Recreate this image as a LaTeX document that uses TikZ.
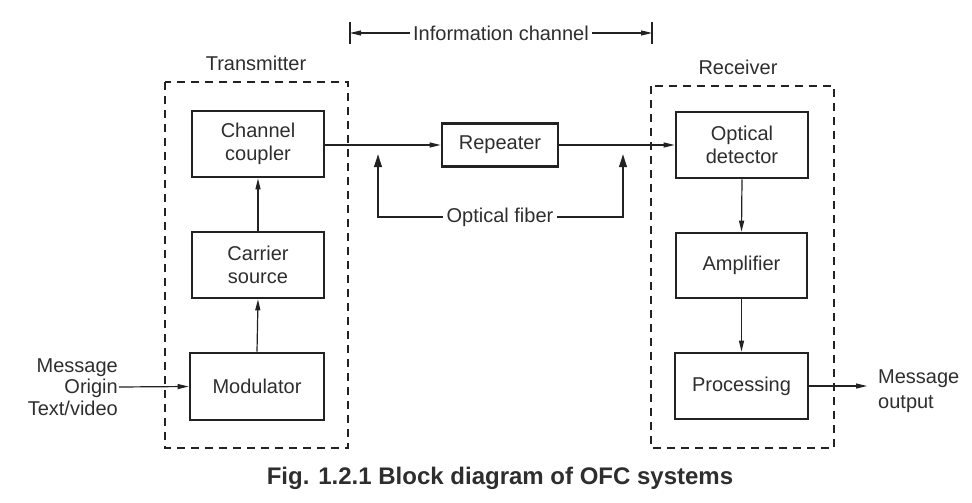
\documentclass[tikz,border=0pt]{standalone}
\usepackage{fontspec}
\setmainfont{Liberation Sans}
\usetikzlibrary{arrows.meta}
\definecolor{ink}{HTML}{222222}
\definecolor{txt}{HTML}{2E2E2E}
\begin{document}
\begin{tikzpicture}[x=1pt,y=-1pt,
  every node/.style={font=\fontsize{20}{23}\selectfont, text=txt},
  blk/.style={draw=ink, line width=2.6pt, minimum width=132pt, minimum height=66pt, align=center, inner sep=2pt},
  dashbox/.style={draw=ink, line width=1.5pt, dash pattern=on 8pt off 6pt},
  arr/.style={draw=ink, line width=1.2pt, -{Triangle[length=11pt,width=5pt]}},
  fib/.style={draw=ink, line width=2.2pt, -{Triangle[length=13pt,width=7.5pt]}},
  bar/.style={draw=ink, line width=1.4pt}]
\useasboundingbox (0,0) rectangle (972,503);

% dashed enclosures
\draw[dashbox] (165,82) rectangle (348,448);
\draw[dashbox] (651,86) rectangle (834,448);
\node (txlbl) at (256,63) {Transmitter};
\node (rxlbl) at (738,67) {Receiver};

% information channel
\node (ic) at (501,33) {Information channel};
\coordinate (barL) at (350,33);
\coordinate (barR) at (652,33);
\draw[arr] (ic.west) -- (barL);
\draw[arr] (ic.east) -- (barR);
\draw[bar] ([yshift=-11pt]barL) -- ([yshift=11pt]barL);
\draw[bar] ([yshift=-11pt]barR) -- ([yshift=11pt]barR);

% transmitter blocks
\node[blk] (coup) at (258,144) {Channel\\coupler};
\node[blk] (carr) at (258,265) {Carrier\\source};
\node[blk, minimum width=134pt, minimum height=67pt] (mod) at (257,386.5) {Modulator};

% receiver blocks
\node[blk] (det) at (742,145) {Optical\\detector};
\node[blk, minimum width=131pt, minimum height=65pt] (amp) at (741.5,265.5) {Amplifier};
\node[blk, minimum width=133pt] (proc) at (741.5,386) {Processing};

% repeater
\node[blk, minimum width=116pt, minimum height=43pt] (rep) at (500,145) {Repeater};

% message in/out
\node[align=right, anchor=east, inner sep=1pt, font=\fontsize{20}{21.5}\selectfont] (min) at (119,387) {Message\\Origin\\Text/video};
\node[align=left, anchor=west, inner sep=1pt, font=\fontsize{20}{25}\selectfont] (mout) at (877,391) {Message\\output};
\coordinate (outtip) at (867,386);

% connectors
\draw[arr] (min.east) -- (mod.west);
\draw[arr] (mod.north) -- (carr.south);
\draw[arr] (carr.north) -- (coup.south);
\draw[arr] (coup.east |- rep.west) -- (rep.west);
\draw[arr] (rep.east) -- (det.west |- rep.east);
\draw[arr] (det.south) -- (amp.north);
\draw[arr] (amp.south) -- (proc.north);
\draw[arr] (proc.east) -- (outtip);

% optical fiber
\node (of) at (500,217) {Optical fiber};
\coordinate (fibL) at (378,154);
\coordinate (fibR) at (623,154);
\draw[fib] (of.west) -| (fibL);
\draw[fib] (of.east) -| (fibR);

% caption
\node[font=\bfseries\fontsize{24}{28}\selectfont] (cap) at (500,478) {Fig. 1.2.1 Block diagram of OFC systems};
\end{tikzpicture}
\end{document}
